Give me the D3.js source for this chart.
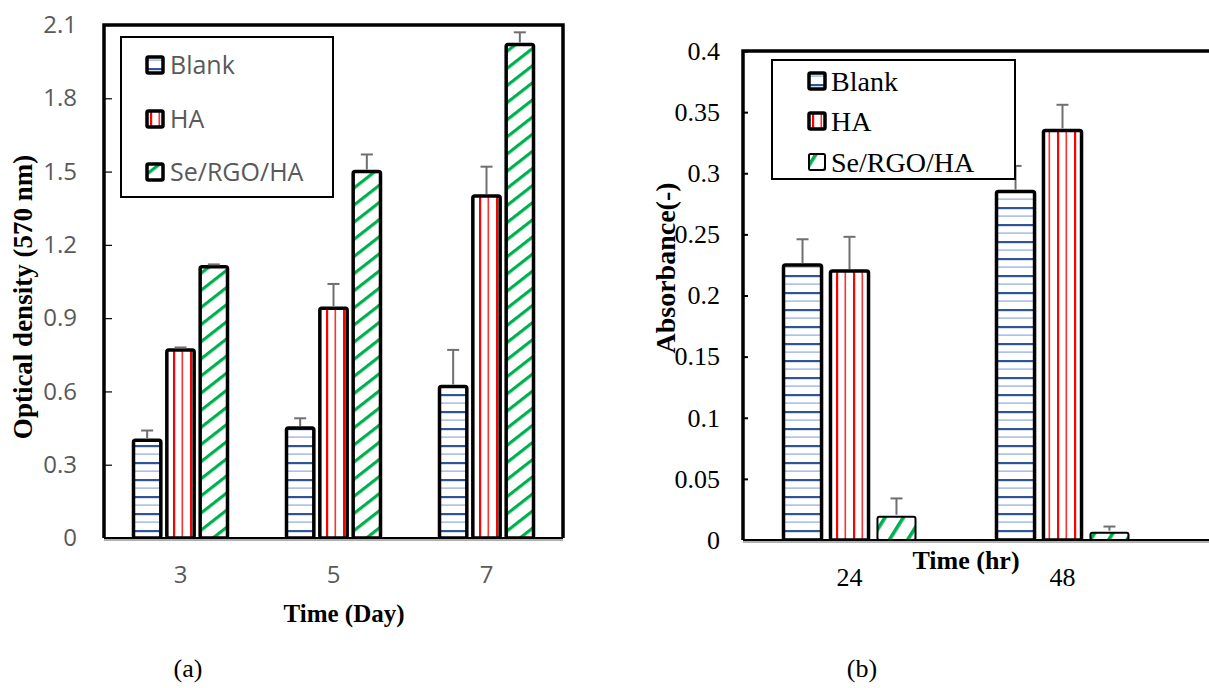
<!DOCTYPE html>
<html lang="en">
<head>
<meta charset="utf-8">
<title>Optical density and absorbance</title>
<script src="https://d3js.org/d3.v7.min.js"></script>
<style>
	body { margin: 0; background: #fff; }
	.lt text { font-family: "Open Sans", sans-serif; fill: #595959; }
	.rt text { font-family: "Liberation Serif", "Times New Roman", serif; fill: #000; }
	.domain { display: none; }
</style>
</head>
<body>
<script>
// series names
var seriesNames = ["Blank", "HA", "Se/RGO/HA"];

// (a) optical density
var daysA = ["3", "5", "7"];
var blankA = [0.40, 0.45, 0.62];
var haA = [0.77, 0.94, 1.40];
var seA = [1.11, 1.50, 2.02];
var blankErrA = [0.04, 0.04, 0.15];
var haErrA = [0.01, 0.10, 0.12];
var seErrA = [0.01, 0.07, 0.05];
var ticksA = [0, 0.3, 0.6, 0.9, 1.2, 1.5, 1.8, 2.1];

// (b) absorbance
var hoursB = ["24", "48"];
var blankB = [0.225, 0.285];
var haB = [0.220, 0.335];
var seB = [0.019, 0.006];
var blankErrB = [0.021, 0.021];
var haErrB = [0.028, 0.021];
var seErrB = [0.015, 0.005];
var ticksB = [0, 0.05, 0.1, 0.15, 0.2, 0.25, 0.3, 0.35, 0.4];

var W = 1209, H = 688;
var svg = d3.select("body").append("svg").attr("width", W).attr("height", H);
var defs = svg.append("defs");

// hatch patterns
function hlines(id) {
	var p = defs.append("pattern").attr("id", id).attr("patternUnits", "userSpaceOnUse")
		.attr("width", 10).attr("height", 17);
	p.append("rect").attr("width", 10).attr("height", 17).attr("fill", "#fff");
	p.append("rect").attr("y", 3).attr("width", 10).attr("height", 2.2).attr("fill", "#2F5597");
	p.append("rect").attr("y", 11.5).attr("width", 10).attr("height", 1.2).attr("fill", "#8FAADC");
}
function vlines(id) {
	var p = defs.append("pattern").attr("id", id).attr("patternUnits", "userSpaceOnUse")
		.attr("width", 17).attr("height", 10);
	p.append("rect").attr("width", 17).attr("height", 10).attr("fill", "#fff");
	p.append("rect").attr("x", 3).attr("width", 2.2).attr("height", 10).attr("fill", "#FF0000");
	p.append("rect").attr("x", 11.5).attr("width", 1.6).attr("height", 10).attr("fill", "#FF3030");
}
function diag(id, angle, gap, thick) {
	var p = defs.append("pattern").attr("id", id).attr("patternUnits", "userSpaceOnUse")
		.attr("width", 10).attr("height", gap)
		.attr("patternTransform", "rotate(" + (-angle) + ")");
	p.append("rect").attr("width", 10).attr("height", gap).attr("fill", "#fff");
	p.append("rect").attr("y", 0).attr("width", 10).attr("height", thick).attr("fill", "#00B050");
}
hlines("pBlank");
vlines("pHA");
diag("pSeA", 38, 13.5, 3.2);
diag("pSeB", 58, 15.5, 3.6);

function chart(o) {
	var g = svg.append("g").attr("class", o.cls);
	var x = d3.scaleBand().domain(o.cats).range([o.left, o.right]);
	var inner = d3.scaleBand().domain(d3.range(3)).range([-o.group / 2, o.group / 2]).paddingInner(o.gap);
	var y = d3.scaleLinear().domain([0, o.max]).range([o.bottom, o.top]);
	var vals = [o.blank, o.ha, o.se];
	var errs = [o.blankErr, o.haErr, o.seErr];
	var fills = ["url(#pBlank)", "url(#pHA)", o.seFill];

	// frame
	g.append("path")
		.attr("d", "M" + o.left + "," + o.bottom + "V" + o.top + "H" + o.frameRight + "V" + o.bottom)
		.attr("fill", "none").attr("stroke", "#000").attr("stroke-width", 3.5);

	// y axis (ticks inward)
	var ya = g.append("g").attr("transform", "translate(" + o.left + ",0)")
		.call(d3.axisLeft(y).tickValues(o.ticks).tickFormat(function (d) { return String(d); })
			.tickSize(-o.tick).tickPadding(o.pad));
	ya.selectAll("line").attr("stroke", "#000").attr("stroke-width", o.tickW);
	ya.selectAll("text").attr("font-size", o.tickFont);

	// bars
	for (var s = 0; s < 3; s++) {
		g.selectAll(null).data(o.cats).enter().append("rect")
			.attr("x", function (d) { return x(d) + x.bandwidth() / 2 + inner(s); })
			.attr("y", function (d, i) { return y(vals[s][i]); })
			.attr("width", inner.bandwidth())
			.attr("height", function (d, i) { return o.bottom - y(vals[s][i]); })
			.attr("rx", 2)
			.attr("fill", fills[s]).attr("stroke", "#000")
			.attr("stroke-width", s === 2 ? o.seStroke : o.barStroke);
	}
	// error bars
	for (var s2 = 0; s2 < 3; s2++) {
		var eg = g.selectAll(null).data(o.cats).enter().append("g")
			.attr("transform", function (d) { return "translate(" + (x(d) + x.bandwidth() / 2 + inner(s2) + inner.bandwidth() / 2) + ",0)"; });
		(function (s) {
			eg.append("line")
				.attr("y1", function (d, i) { return y(vals[s][i]) - 2; })
				.attr("y2", function (d, i) { return y(vals[s][i] + errs[s][i]); })
				.attr("stroke", "#6f6f6f").attr("stroke-width", 2);
			eg.append("line")
				.attr("x1", -o.cap).attr("x2", o.cap)
				.attr("y1", function (d, i) { return y(vals[s][i] + errs[s][i]); })
				.attr("y2", function (d, i) { return y(vals[s][i] + errs[s][i]); })
				.attr("stroke", "#6f6f6f").attr("stroke-width", 2);
		})(s2);
	}

	// x axis line
	g.append("line").attr("x1", o.left).attr("x2", o.frameRight).attr("y1", o.bottom + 2).attr("y2", o.bottom + 2)
		.attr("stroke", "#b0b0b0").attr("stroke-width", 2);
	g.append("line").attr("x1", o.left).attr("x2", o.frameRight).attr("y1", o.bottom).attr("y2", o.bottom)
		.attr("stroke", "#000").attr("stroke-width", 1.8);

	// category labels
	g.selectAll(null).data(o.cats).enter().append("text")
		.attr("x", function (d) { return x(d) + x.bandwidth() / 2; })
		.attr("y", o.catY).attr("dy", "0.35em")
		.attr("text-anchor", "middle").attr("font-size", o.tickFont)
		.text(function (d) { return d; });

	// titles
	g.append("text").attr("x", o.xTitle[0]).attr("y", o.xTitle[1]).attr("dy", "0.35em")
		.attr("text-anchor", "middle").attr("font-size", o.titleFont)
		.style("font-family", "'Liberation Serif', serif").style("font-weight", "bold").style("fill", "#000")
		.text(o.xLabel);
	g.append("text").attr("transform", "translate(" + o.yTitle[0] + "," + o.yTitle[1] + ") rotate(-90)")
		.attr("dy", "0.35em").attr("text-anchor", "middle").attr("font-size", o.yTitleFont)
		.style("font-family", "'Liberation Serif', serif").style("font-weight", "bold").style("fill", "#000")
		.text(o.yLabel);

	// legend
	var L = o.legend;
	g.append("rect").attr("x", L.x).attr("y", L.y).attr("width", L.w).attr("height", L.h)
		.attr("fill", "#fff").attr("stroke", "#000").attr("stroke-width", 2);
	var li = g.selectAll(".li").data(seriesNames).enter().append("g")
		.attr("transform", function (d, i) { return "translate(" + L.sx + "," + L.rows[i] + ")"; });
	li.append("rect").attr("x", 0).attr("y", -8).attr("width", 16).attr("height", 16).attr("rx", 1.5)
		.attr("fill", function (d, i) { return fills[i]; }).attr("stroke", "#000")
		.attr("stroke-width", function (d, i) { return i === 2 ? L.seStroke : 3.5; });
	li.append("text").attr("x", L.tx).attr("dy", "0.36em").attr("font-size", L.font)
		.text(function (d) { return d; });
}

chart({
	cls: "lt", cats: daysA, blank: blankA, ha: haA, se: seA,
	blankErr: blankErrA, haErr: haErrA, seErr: seErrA,
	seFill: "url(#pSeA)", max: 2.1, ticks: ticksA,
	left: 104, right: 563, frameRight: 563, top: 25, bottom: 538,
	group: 94, gap: 0.18, barStroke: 3.5, seStroke: 3.5, cap: 6,
	tick: 8, tickW: 1.2, pad: 27, tickFont: 24, catY: 575,
	xLabel: "Time (Day)", xTitle: [344, 613], titleFont: 25,
	yLabel: "Optical density (570 nm)", yTitle: [23, 297], yTitleFont: 27,
	legend: { x: 121, y: 37, w: 212, h: 160, sx: 147, tx: 23, rows: [65, 119, 172], font: 25, seStroke: 3.5 }
});

chart({
	cls: "rt", cats: hoursB, blank: blankB, ha: haB, se: seB,
	blankErr: blankErrB, haErr: haErrB, seErr: seErrB,
	seFill: "url(#pSeB)", max: 0.4, ticks: ticksB,
	left: 743, right: 1169, frameRight: 1215, top: 51, bottom: 540,
	group: 132, gap: 0.19, barStroke: 3.5, seStroke: 2, cap: 6,
	tick: 5, tickW: 2, pad: 23, tickFont: 26, catY: 577,
	xLabel: "Time (hr)", xTitle: [966, 560], titleFont: 26,
	yLabel: "Absorbance(-)", yTitle: [665, 268], yTitleFont: 28,
	legend: { x: 772, y: 60, w: 243, h: 119, sx: 809, tx: 22, rows: [81, 121, 162], font: 28, seStroke: 2 }
});

// panel captions
svg.append("text").attr("x", 188).attr("y", 668).attr("dy", "0.35em").attr("text-anchor", "middle")
	.style("font-family", "'Liberation Serif', serif").attr("font-size", 26).text("(a)");
svg.append("text").attr("x", 862).attr("y", 668).attr("dy", "0.35em").attr("text-anchor", "middle")
	.style("font-family", "'Liberation Serif', serif").attr("font-size", 26).text("(b)");
</script>
</body>
</html>
